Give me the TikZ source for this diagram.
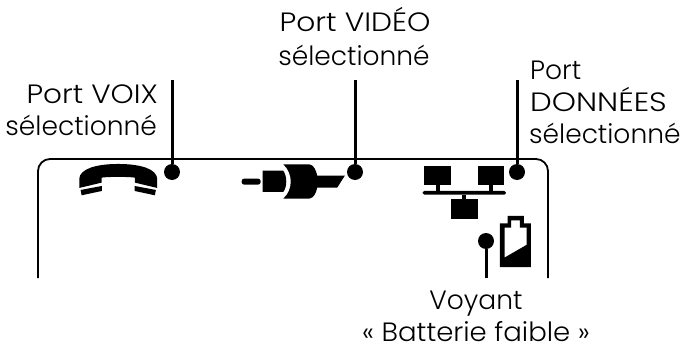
\documentclass[tikz,border=0pt]{standalone}
\usepackage{fontspec}
\setmainfont[UprightFont=* Light]{Poppins}
\tikzset{
  lbl/.style={inner sep=0pt,font=\fontsize{26.5}{38}\selectfont,text=black},
  dotn/.style={circle,fill=black,minimum size=16pt,inner sep=0pt},
  lead/.style={line width=3pt},
  icon/.style={fill=black,draw=none},
}
\begin{document}
\begin{tikzpicture}[x=1pt,y=-1pt]
\useasboundingbox (0,0) rectangle (681,343);
\fill[white] (0,0) rectangle (681,343);
% frame
\coordinate (fl) at (38,278);
\coordinate (fr) at (548,278);
\draw[line width=1.8pt,rounded corners=12pt] (fl) -- (38,159) -- (548,159) -- (fr);
% dots and leads
\node[dotn] (d1) at (172,172) {};
\node[dotn] (d2) at (355,172) {};
\node[dotn] (d3) at (517,172) {};
\node[dotn] (d4) at (486,241) {};
\coordinate (t1) at (172,80);
\coordinate (t2) at (355,80);
\coordinate (t3) at (517,80);
\coordinate (t4) at (486,278);
\draw[lead] (t1) -- (d1);
\draw[lead] (t2) -- (d2);
\draw[lead] (t3) -- (d3);
\draw[lead] (t4) -- (d4);
% labels
\node[lbl,anchor=base east] (l1a) at (158,103) {\scalebox{1.11}[1]{Port VOIX}};
\node[lbl,anchor=base east] (l1b) at (157,135) {sélectionné};
\node[lbl,anchor=base] (l2a) at (355,31) {\scalebox{1.12}[1]{Port VIDÉO}};
\node[lbl,anchor=base] (l2b) at (354,65) {sélectionné};
\node[lbl,anchor=base west] (l3a) at (530,79) {Port};
\node[lbl,anchor=base west] (l3b) at (530,111) {\scalebox{1.16}[1]{DONNÉES}};
\node[lbl,anchor=base west] (l3c) at (529,143) {sélectionné};
\node[lbl,anchor=base] (l4a) at (476,309) {Voyant};
\node[lbl,anchor=base] (l4b) at (476,341) {\scalebox{1.04}[1]{« Batterie faible »}};
% phone
\begin{scope}[shift={(30,140)},x=0.333pt,y=-0.333pt]
\fill[icon] (148,144) -- (148,116) .. controls (150,88) and (195,72) .. (265,72)
  .. controls (335,72) and (380,88) .. (382,116) -- (382,144) -- (315,128) -- (315,113)
  .. controls (295,110) and (235,110) .. (215,113) -- (215,128) -- cycle;
\fill[icon] (152,150) -- (216,138) -- (216,153) -- (155,166) -- cycle;
\fill[icon] (378,150) -- (314,138) -- (314,153) -- (375,166) -- cycle;
\end{scope}
% video plug
\begin{scope}[shift={(220,140)},x=0.333pt,y=-0.333pt]
\fill[icon,rounded corners=2.5pt] (65,116) -- (122,116) -- (122,134) -- (65,134) -- cycle;
\fill[icon] (128,92) -- (190,92) .. controls (202,110) and (202,140) .. (190,156)
  -- (128,156) -- cycle;
\fill[icon] (190,73) -- (268,73) .. controls (282,75) and (288,90) .. (292,107)
  -- (375,107) -- (352,143) -- (292,143) .. controls (288,160) and (282,174) .. (268,176)
  -- (190,176) .. controls (220,150) and (220,100) .. (190,73) -- cycle;
\end{scope}
% network + battery
\begin{scope}[shift={(400,140)},x=0.333pt,y=-0.333pt]
\fill[icon] (73,78) rectangle (152,136);
\fill[icon] (235,78) rectangle (313,136);
\fill[icon] (107,136) rectangle (119,155);
\fill[icon] (268,136) rectangle (280,155);
\fill[icon,rounded corners=1.5pt] (68,153) rectangle (318,164);
\fill[icon] (187,164) rectangle (199,178);
\fill[icon] (154,178) rectangle (233,238);
\fill[icon,even odd rule] (323,228) -- (372,228) -- (372,250) -- (393,250) -- (393,382)
  -- (300,382) -- (300,250) -- (323,250) -- cycle
  (314,263) -- (334,263) -- (334,241) -- (360,241) -- (360,263) -- (380,263)
  -- (380,315) -- (314,353) -- cycle;
\end{scope}
\end{tikzpicture}
\end{document}
